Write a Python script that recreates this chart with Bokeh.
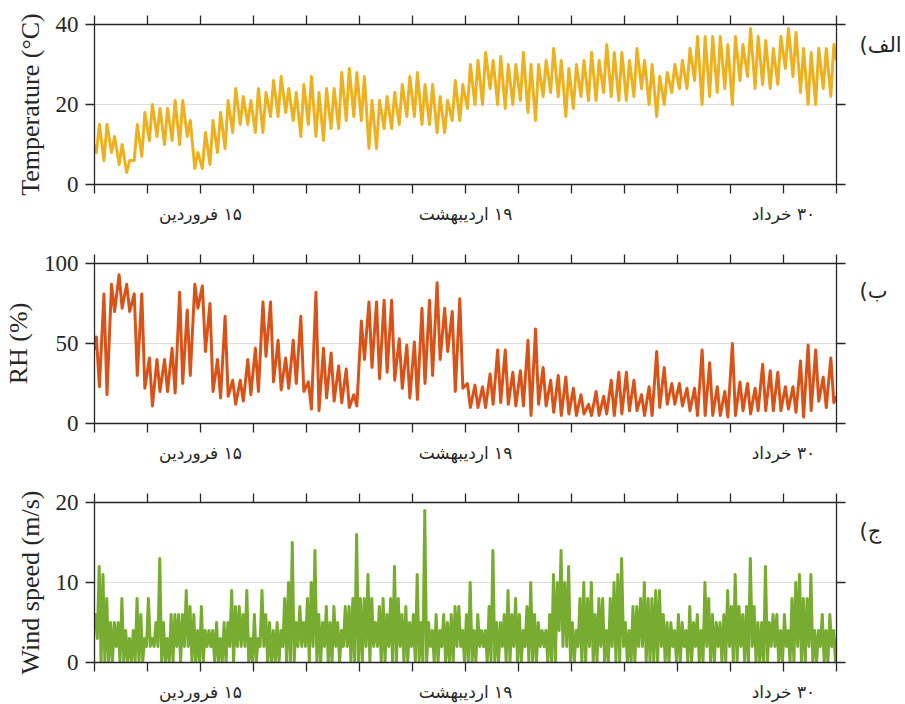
import numpy as np
from bokeh.plotting import figure
from bokeh.layouts import column
from bokeh.models import Range1d, LinearAxis, FixedTicker
from bokeh.embed import file_html
from bokeh.resources import INLINE

# ---- time axis: days since 1 Farvardin, weekly ticks ----
n_days = 98
tick_days = list(range(0, 99, 7))
# RLE ... PDF keeps the Persian date labels right-to-left
date_labels = {14: "\u202b۱۵ فروردین\u202c",
               49: "\u202b۱۹ اردیبهشت\u202c",
               91: "\u202b۳۰ خرداد\u202c"}
# panel letters, written in right-to-left logical order
panel_tags = ["(الف", "(ب", "(ج"]

# ---- air temperature (°C): daily minimum / maximum ----
temp_min = [8, 6, 8, 5, 3, 6, 7, 11, 12, 10,
            11, 10, 12, 4, 4, 5, 8, 9, 13, 15,
            15, 13, 13, 17, 17, 18, 16, 12, 15, 12,
            11, 14, 14, 16, 17, 16, 9, 9, 14, 14,
            15, 17, 17, 15, 15, 13, 13, 16, 16, 19,
            20, 20, 24, 20, 19, 20, 21, 18, 16, 22,
            23, 22, 17, 19, 22, 21, 21, 23, 22, 21,
            21, 22, 24, 20, 17, 20, 23, 24, 24, 26,
            20, 22, 23, 24, 20, 26, 27, 24, 25, 24,
            25, 29, 27, 23, 20, 20, 24, 22]
temp_max = [15, 15, 12, 10, 6, 15, 18, 20, 19, 19,
            21, 21, 16, 8, 13, 16, 18, 21, 24, 22,
            21, 24, 23, 26, 27, 24, 23, 25, 27, 23,
            24, 24, 28, 29, 28, 27, 21, 21, 22, 23,
            25, 27, 28, 25, 25, 22, 21, 26, 25, 30,
            31, 33, 31, 32, 30, 30, 33, 30, 30, 31,
            34, 31, 29, 30, 31, 33, 31, 35, 33, 33,
            31, 34, 31, 30, 27, 28, 30, 31, 34, 37,
            37, 37, 37, 35, 37, 35, 39, 37, 36, 34,
            37, 39, 38, 34, 33, 34, 34, 35]
temp_first, temp_last = 10, 31

# ---- relative humidity (%): daily maximum / minimum ----
rh_max = [54, 81, 87, 93, 87, 81, 81, 41, 40, 40,
          47, 82, 71, 87, 86, 75, 40, 67, 27, 27,
          40, 47, 76, 76, 52, 41, 52, 67, 26, 82,
          47, 44, 36, 34, 18, 64, 76, 76, 77, 77,
          53, 49, 51, 72, 77, 88, 72, 70, 78, 25,
          24, 23, 31, 46, 46, 32, 33, 52, 59, 35,
          27, 30, 29, 22, 18, 12, 20, 17, 27, 32,
          32, 27, 18, 23, 45, 35, 25, 25, 22, 22,
          46, 38, 23, 20, 50, 26, 25, 22, 37, 33,
          32, 23, 23, 39, 49, 46, 29, 41]
rh_min = [23, 18, 70, 72, 70, 30, 22, 11, 20, 20,
          19, 25, 30, 72, 45, 20, 16, 17, 12, 14,
          18, 20, 42, 26, 21, 22, 25, 20, 9, 8,
          16, 14, 13, 10, 11, 40, 35, 28, 32, 27,
          22, 16, 15, 25, 30, 40, 45, 20, 22, 10,
          10, 10, 12, 13, 12, 11, 11, 5, 12, 11,
          7, 5, 6, 5, 6, 5, 5, 6, 5, 6,
          8, 8, 5, 5, 10, 12, 12, 11, 8, 5,
          5, 5, 5, 4, 5, 8, 6, 8, 8, 8,
          8, 9, 7, 4, 8, 14, 10, 13]
rh_first, rh_last = 46, 17

# ---- wind speed (m/s): morning/afternoon gusts and lulls ----
wind_peak_am = [6, 11, 5, 5, 4, 4, 6, 8, 5, 5,
                6, 6, 9, 6, 7, 4, 5, 5, 9, 7,
                9, 6, 9, 5, 5, 8, 15, 7, 8, 14,
                5, 5, 5, 7, 8, 8, 11, 5, 8, 8,
                8, 7, 6, 5, 5, 6, 6, 6, 7, 6,
                4, 4, 7, 5, 6, 6, 6, 7, 6, 4,
                6, 10, 10, 5, 8, 8, 6, 8, 8, 11,
                5, 7, 8, 8, 9, 6, 5, 6, 4, 5,
                4, 8, 5, 6, 7, 7, 7, 7, 5, 5,
                6, 6, 8, 11, 8, 4, 6, 6]
wind_peak_pm = [12, 8, 5, 8, 3, 8, 3, 3, 13, 3,
                6, 6, 7, 4, 4, 4, 3, 5, 7, 6,
                3, 3, 6, 4, 4, 10, 5, 5, 10, 6,
                7, 7, 4, 7, 16, 8, 8, 7, 6, 12,
                6, 5, 11, 19, 4, 4, 5, 7, 4, 10,
                6, 4, 14, 5, 9, 8, 4, 10, 5, 4,
                11, 14, 12, 4, 10, 10, 8, 4, 10, 13,
                4, 7, 10, 8, 9, 5, 4, 5, 7, 6,
                10, 6, 5, 9, 11, 6, 13, 5, 12, 6,
                4, 4, 10, 8, 11, 4, 4, 4]
wind_low_am = [3, 0, 0, 0, 0, 0, 0, 2, 2, 0,
               0, 0, 2, 0, 0, 2, 0, 0, 0, 2,
               0, 0, 2, 0, 0, 0, 0, 2, 0, 0,
               2, 0, 0, 2, 0, 0, 0, 2, 0, 0,
               2, 0, 0, 0, 2, 0, 0, 0, 2, 0,
               0, 2, 0, 0, 0, 2, 0, 0, 0, 2,
               0, 4, 2, 0, 0, 2, 0, 0, 2, 0,
               0, 0, 2, 0, 0, 0, 2, 0, 0, 2,
               0, 0, 2, 0, 0, 2, 0, 0, 0, 2,
               0, 2, 0, 0, 2, 0, 0, 2]
wind_low_pm = [0, 0, 2, 0, 0, 0, 2, 2, 0, 0,
               2, 2, 0, 0, 2, 0, 0, 2, 2, 2,
               0, 2, 0, 0, 2, 0, 2, 2, 2, 0,
               0, 2, 2, 0, 0, 2, 2, 0, 2, 0,
               0, 2, 0, 0, 0, 2, 0, 2, 0, 0,
               2, 0, 0, 2, 0, 0, 2, 0, 2, 0,
               0, 2, 0, 2, 0, 0, 2, 0, 0, 2,
               0, 2, 0, 0, 2, 0, 0, 2, 0, 0,
               2, 0, 0, 2, 0, 0, 2, 0, 0, 2,
               0, 0, 2, 0, 0, 2, 0, 0]
wind_first, wind_last = 6, 3

days = np.arange(n_days)


def interleave(x_offsets, series, first, last):
    xs = np.column_stack([days + o for o in x_offsets]).ravel()
    ys = np.column_stack(series).ravel()
    xs = np.concatenate([[0.0], xs, [float(n_days)]])
    ys = np.concatenate([[first], ys, [last]])
    return xs, ys


t_x, t_y = interleave([0.25, 0.65], [temp_min, temp_max], temp_first, temp_last)
rh_x, rh_y = interleave([0.25, 0.65], [rh_max, rh_min], rh_first, rh_last)
w_x, w_y = interleave([0.12, 0.37, 0.62, 0.87],
                      [wind_peak_am, wind_low_am, wind_peak_pm, wind_low_pm],
                      wind_first, wind_last)

INK = "#262626"
SERIF = "Liberation Serif"
FA_FONT = "DejaVu Sans"


def style_axis(ax):
    ax.axis_line_color = INK
    ax.axis_line_width = 1.3
    ax.major_tick_line_color = INK
    ax.major_tick_line_width = 1.3
    ax.major_tick_in = 0
    ax.major_tick_out = 9
    ax.minor_tick_in = 0
    ax.minor_tick_out = 0
    ax.major_label_text_color = INK


def panel(height, bottom, ymax, yticks, ylabel, tag, tag_y, xs, ys, color):
    p = figure(width=905, height=height,
               x_range=Range1d(0, n_days), y_range=Range1d(0, ymax),
               output_backend="svg", toolbar_location=None,
               min_border_left=94, min_border_right=69,
               min_border_top=24, min_border_bottom=bottom)
    p.outline_line_color = None
    p.background_fill_color = "white"
    p.border_fill_color = "white"

    xt = FixedTicker(ticks=tick_days)
    yt = FixedTicker(ticks=yticks)

    ax_y = p.yaxis[0]
    ax_x = p.xaxis[0]
    style_axis(ax_y)
    style_axis(ax_x)
    ax_y.ticker = yt
    ax_y.axis_label = ylabel
    ax_y.axis_label_text_font = SERIF
    ax_y.axis_label_text_font_size = "26px"
    ax_y.axis_label_text_font_style = "normal"
    ax_y.axis_label_text_color = INK
    ax_y.axis_label_standoff = 8
    ax_y.major_label_text_font = SERIF
    ax_y.major_label_text_font_size = "23px"
    ax_y.major_label_standoff = 7

    ax_x.ticker = xt
    ax_x.major_label_overrides = {d: date_labels.get(d, "") for d in tick_days}
    ax_x.major_label_text_font = FA_FONT
    ax_x.major_label_text_font_size = "17px"
    ax_x.major_label_standoff = 10

    p.xgrid.visible = False
    p.ygrid.ticker = yt
    p.ygrid.grid_line_color = "#dddddd"
    p.ygrid.grid_line_width = 1

    top = LinearAxis(ticker=xt, major_label_overrides={d: "" for d in tick_days},
                     major_label_text_font_size="1px", major_label_standoff=0)
    style_axis(top)
    p.add_layout(top, "above")
    right = LinearAxis(ticker=yt, major_label_overrides={v: "" for v in yticks},
                       major_label_text_font_size="1px", major_label_standoff=0)
    style_axis(right)
    p.add_layout(right, "right")

    # panel tag (الف / ب / ج) drawn as the only label of a bare right-hand axis
    tag_axis = LinearAxis(ticker=FixedTicker(ticks=[tag_y]),
                          major_label_overrides={tag_y: tag},
                          axis_line_color=None, major_tick_line_color=None,
                          minor_tick_line_color=None,
                          major_tick_in=0, major_tick_out=0,
                          minor_tick_in=0, minor_tick_out=0,
                          major_label_text_font=FA_FONT,
                          major_label_text_font_size="21px",
                          major_label_text_color=INK,
                          major_label_orientation="horizontal",
                          major_label_standoff=14)
    p.add_layout(tag_axis, "right")

    p.line(xs, ys, line_color=color, line_width=3, line_join="round")
    return p


p1 = panel(239, 55, 40, [0, 20, 40], "Temperature (°C)", panel_tags[0], 35,
           t_x, t_y, "#EDB120")
p2 = panel(239, 55, 100, [0, 50, 100], "RH (%)", panel_tags[1], 83,
           rh_x, rh_y, "#D95319")
p3 = panel(226, 42, 20, [0, 10, 20], "Wind speed (m/s)", panel_tags[2], 16.5,
           w_x, w_y, "#77AC30")

layout = column(p1, p2, p3)
open("out.html", "w").write(file_html(layout, INLINE))
